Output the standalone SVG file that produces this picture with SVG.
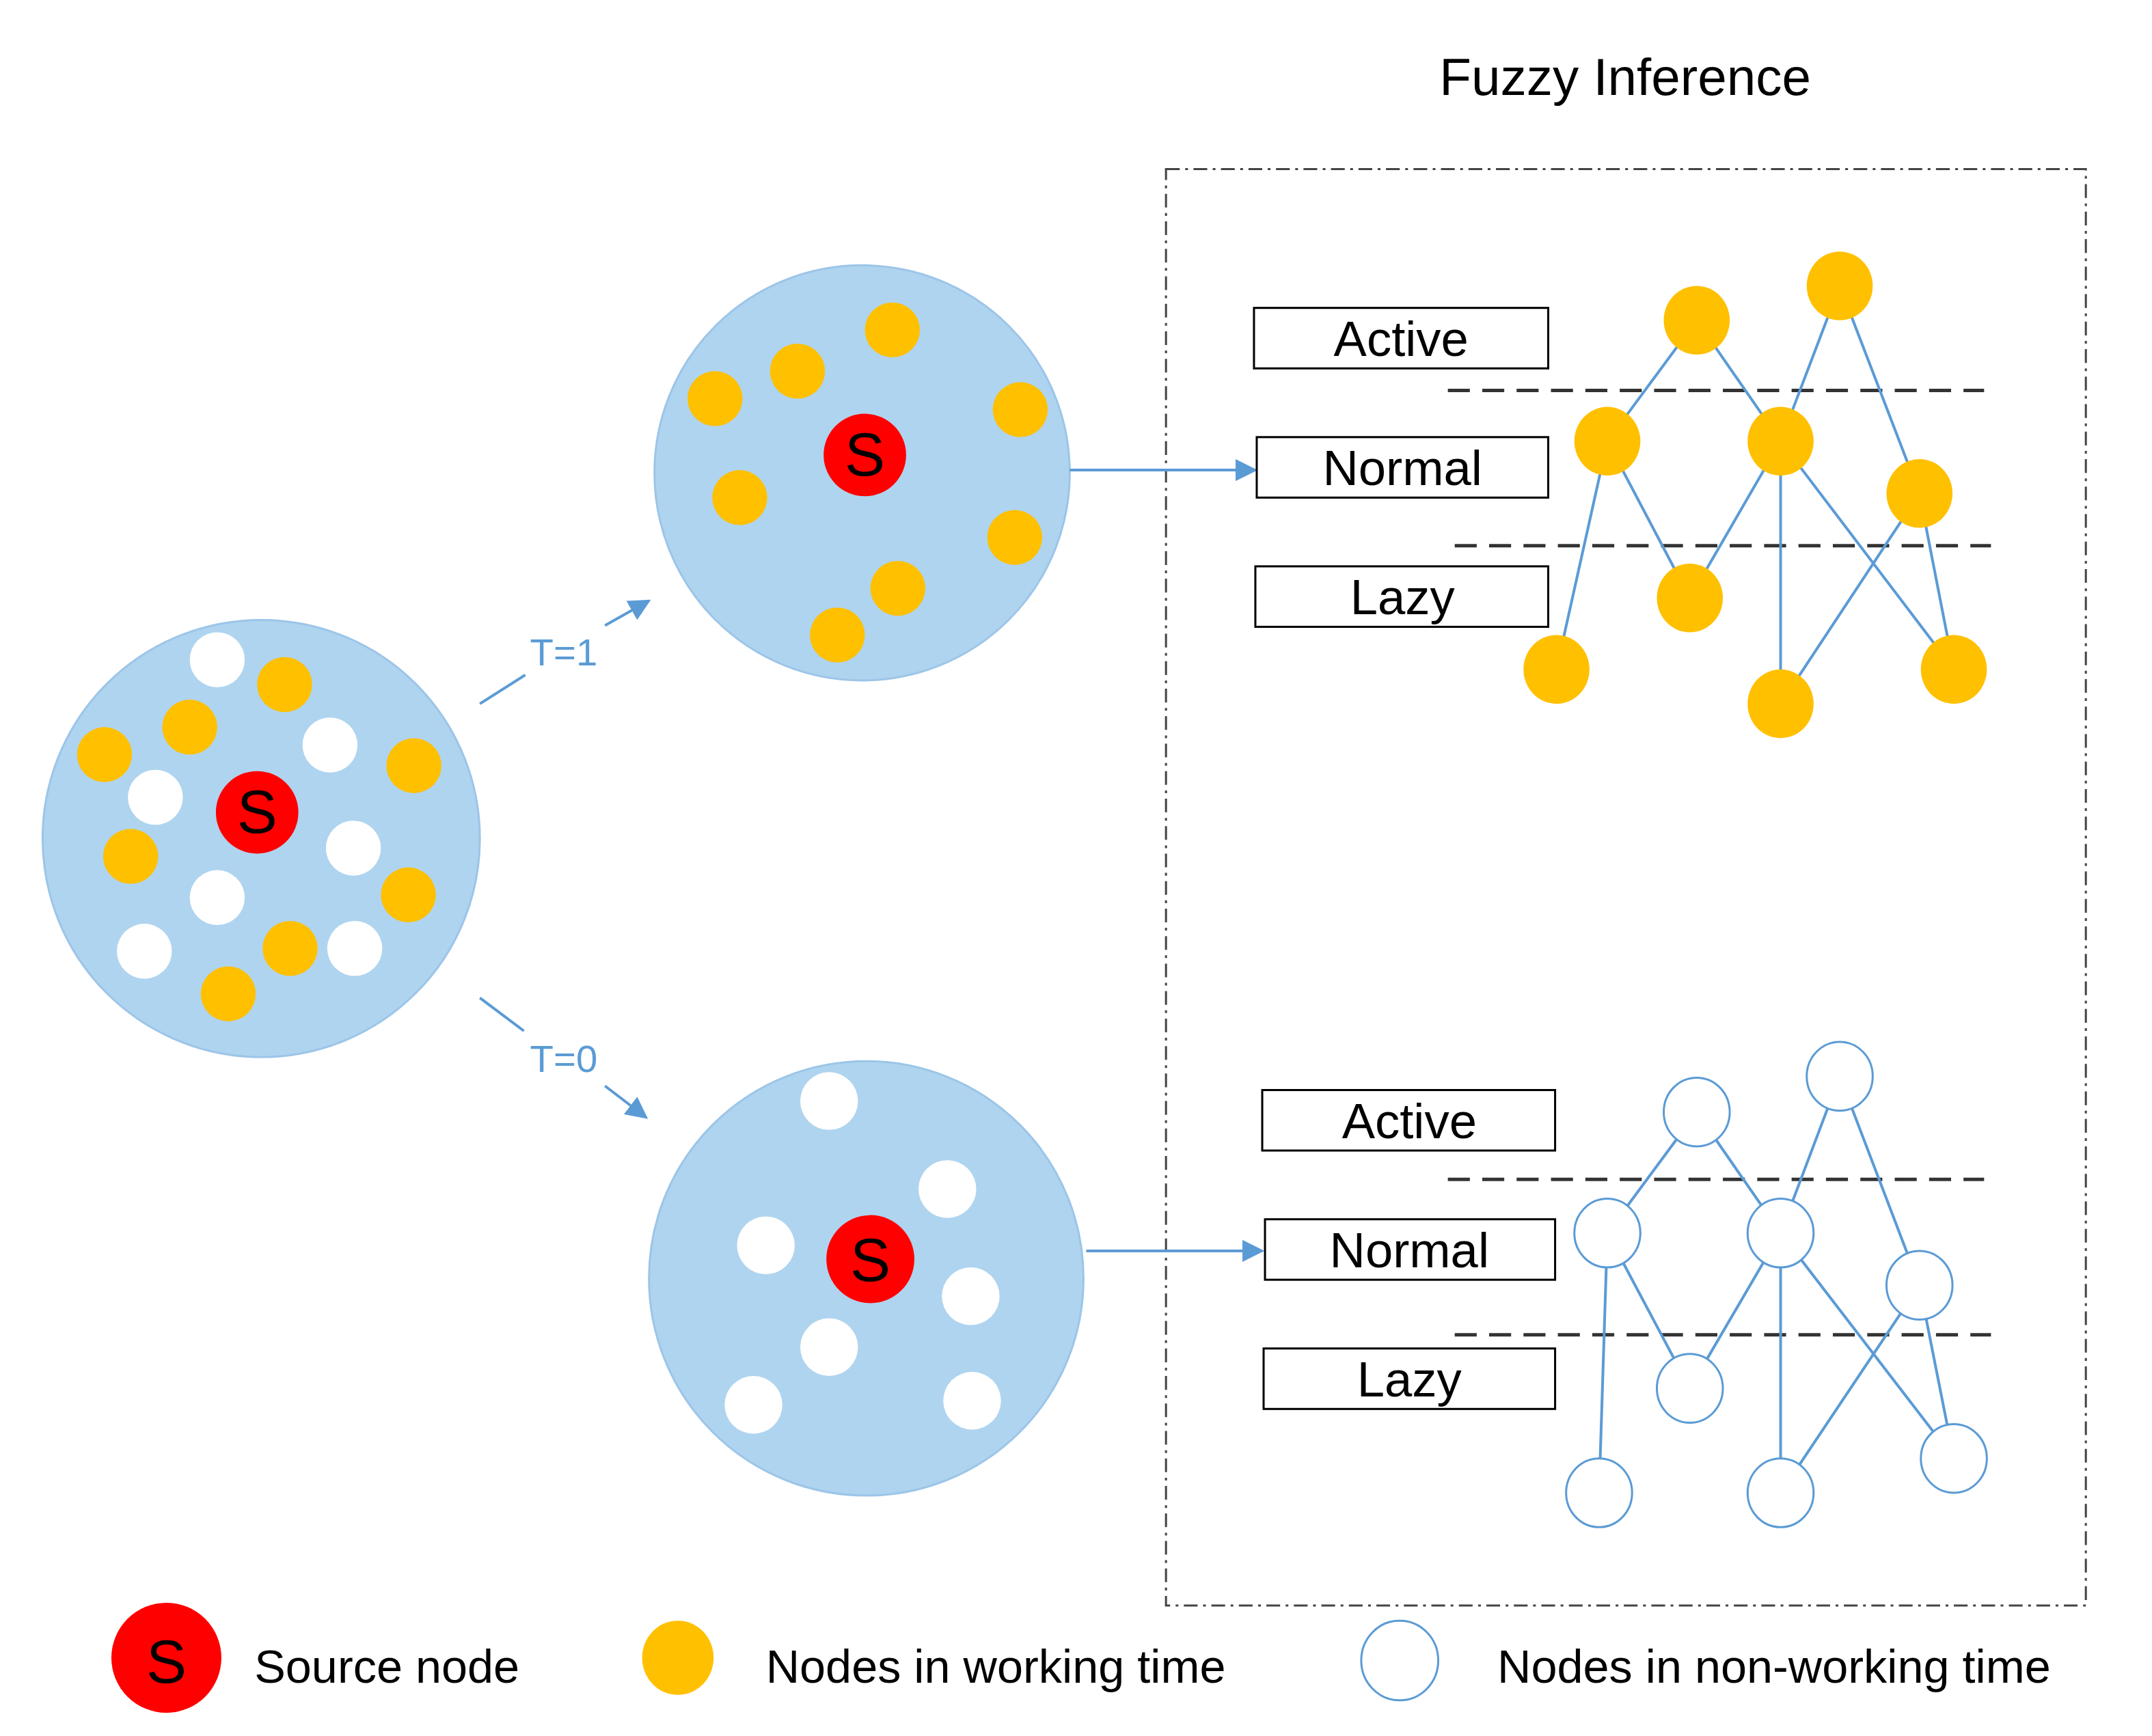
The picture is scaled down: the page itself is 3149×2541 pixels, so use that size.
<svg xmlns="http://www.w3.org/2000/svg" width="3149" height="2541" viewBox="0 0 3149 2541">
<style>
.big{fill:#AFD4EF;stroke:#9CC5E8;stroke-width:1.5}
.o{fill:#FFC000}
.w{fill:#FFFFFF}
.wn{fill:#FFFFFF;stroke:#5B9BD5;stroke-width:1.5}
.src{fill:#FF0000}
.st{font-family:"Liberation Sans",Arial,sans-serif;font-size:44px;fill:#000;text-anchor:middle}
.lbl{fill:#fff;stroke:#000;stroke-width:1.5}
.lt{font-family:"Liberation Sans",Arial,sans-serif;font-size:36px;fill:#000;text-anchor:middle}
.e{stroke:#5B9BD5;stroke-width:2;fill:none}
.d{stroke:#333;stroke-width:2.5;stroke-dasharray:16,9}
.t{font-family:"Liberation Sans",Arial,sans-serif;font-size:28px;fill:#5B9BD5;text-anchor:middle}
.leg{font-family:"Liberation Sans",Arial,sans-serif;font-size:34px;fill:#000}
</style>
<defs>
<marker id="ar" viewBox="0 0 10 10" refX="9" refY="5" markerWidth="8" markerHeight="8" orient="auto"><path d="M0,0L10,5L0,10z" fill="#5B9BD5"/></marker>
</defs>
<rect width="3149" height="2541" fill="#fff"/>
<g transform="scale(2.012)">
<text x="1182" y="69" font-family="Liberation Sans,Arial,sans-serif" font-size="38" text-anchor="middle">Fuzzy Inference</text>
<rect x="848" y="123" width="669" height="1045" fill="none" stroke="#444" stroke-width="1.5" stroke-dasharray="10,4,2,4"/>

<g id="left-cluster">
<circle class="big" cx="190" cy="610" r="159"/>
<circle class="w" cx="158" cy="480" r="20"/><circle class="w" cx="240" cy="542" r="20"/><circle class="w" cx="113" cy="580" r="20"/><circle class="w" cx="257" cy="617" r="20"/><circle class="w" cx="158" cy="653" r="20"/><circle class="w" cx="105" cy="692" r="20"/><circle class="w" cx="258" cy="690" r="20"/>
<circle class="o" cx="207" cy="498" r="20"/><circle class="o" cx="138" cy="529" r="20"/><circle class="o" cx="76" cy="549" r="20"/><circle class="o" cx="301" cy="557" r="20"/><circle class="o" cx="95" cy="623" r="20"/><circle class="o" cx="297" cy="651" r="20"/><circle class="o" cx="211" cy="690" r="20"/><circle class="o" cx="166" cy="723" r="20"/>
<circle class="src" cx="187" cy="591" r="30"/><text class="st" x="187" y="606">S</text>
</g>
<g id="top-cluster">
<circle class="big" cx="627" cy="344" r="151"/>
<circle class="o" cx="649" cy="240" r="20"/><circle class="o" cx="580" cy="270" r="20"/><circle class="o" cx="520" cy="290" r="20"/><circle class="o" cx="742" cy="298" r="20"/><circle class="o" cx="538" cy="362" r="20"/><circle class="o" cx="738" cy="391" r="20"/><circle class="o" cx="653" cy="428" r="20"/><circle class="o" cx="609" cy="462" r="20"/>
<circle class="src" cx="629" cy="331" r="30"/><text class="st" x="629" y="346">S</text>
</g>
<g id="bottom-cluster">
<circle class="big" cx="630" cy="930" r="158"/>
<circle class="w" cx="603" cy="801" r="21"/><circle class="w" cx="689" cy="865" r="21"/><circle class="w" cx="557" cy="906" r="21"/><circle class="w" cx="706" cy="943" r="21"/><circle class="w" cx="603" cy="980" r="21"/><circle class="w" cx="548" cy="1022" r="21"/><circle class="w" cx="707" cy="1019" r="21"/>
<circle class="src" cx="633" cy="916" r="32"/><text class="st" x="633" y="932">S</text>
</g>

<g id="connectors">
<path class="e" d="M349,512L382,491"/><path class="e" d="M440,455L472,437" marker-end="url(#ar)"/>
<text class="t" x="410" y="484">T=1</text>
<path class="e" d="M349,726L381,750"/><path class="e" d="M440,790L470,813" marker-end="url(#ar)"/>
<text class="t" x="410" y="780">T=0</text>
<path class="e" d="M778,342L913,342" marker-end="url(#ar)"/>
<path class="e" d="M790,910L918,910" marker-end="url(#ar)"/>
</g>

<g id="top-labels">
<rect class="lbl" x="912" y="224" width="214" height="44"/><text class="lt" x="1019" y="259">Active</text>
<rect class="lbl" x="914" y="318" width="212" height="44"/><text class="lt" x="1020" y="353">Normal</text>
<rect class="lbl" x="913" y="412" width="213" height="44"/><text class="lt" x="1020" y="447">Lazy</text>
<line class="d" x1="1053" y1="284" x2="1443" y2="284"/><line class="d" x1="1058" y1="397" x2="1448" y2="397"/>
</g>
<g id="top-graph">
<path class="e" d="M1234,233L1169,321M1234,233L1295,321M1338,208L1295,321M1338,208L1396,359M1169,321L1132,487M1169,321L1229,435M1295,321L1229,435M1295,321L1295,512M1295,321L1421,487M1396,359L1295,512M1396,359L1421,487"/>
<ellipse class="o" cx="1234" cy="233" rx="24" ry="25"/><ellipse class="o" cx="1338" cy="208" rx="24" ry="25"/>
<ellipse class="o" cx="1169" cy="321" rx="24" ry="25"/><ellipse class="o" cx="1295" cy="321" rx="24" ry="25"/><ellipse class="o" cx="1396" cy="359" rx="24" ry="25"/>
<ellipse class="o" cx="1229" cy="435" rx="24" ry="25"/><ellipse class="o" cx="1132" cy="487" rx="24" ry="25"/><ellipse class="o" cx="1295" cy="512" rx="24" ry="25"/><ellipse class="o" cx="1421" cy="487" rx="24" ry="25"/>
</g>

<g id="bottom-labels">
<rect class="lbl" x="918" y="793" width="213" height="44"/><text class="lt" x="1025" y="828">Active</text>
<rect class="lbl" x="920" y="887" width="211" height="44"/><text class="lt" x="1025" y="922">Normal</text>
<rect class="lbl" x="919" y="981" width="212" height="44"/><text class="lt" x="1025" y="1016">Lazy</text>
<line class="d" x1="1053" y1="858" x2="1443" y2="858"/><line class="d" x1="1058" y1="971" x2="1448" y2="971"/>
</g>
<g id="bottom-graph">
<path class="e" d="M1234,809L1169,897M1234,809L1295,897M1338,783L1295,897M1338,783L1396,935M1169,897L1163,1086M1169,897L1229,1010M1295,897L1229,1010M1295,897L1295,1086M1295,897L1421,1061M1396,935L1295,1086M1396,935L1421,1061"/>
<ellipse class="wn" cx="1234" cy="809" rx="24" ry="25"/><ellipse class="wn" cx="1338" cy="783" rx="24" ry="25"/>
<ellipse class="wn" cx="1169" cy="897" rx="24" ry="25"/><ellipse class="wn" cx="1295" cy="897" rx="24" ry="25"/><ellipse class="wn" cx="1396" cy="935" rx="24" ry="25"/>
<ellipse class="wn" cx="1229" cy="1010" rx="24" ry="25"/><ellipse class="wn" cx="1163" cy="1086" rx="24" ry="25"/><ellipse class="wn" cx="1295" cy="1086" rx="24" ry="25"/><ellipse class="wn" cx="1421" cy="1061" rx="24" ry="25"/>
</g>

<g id="legend">
<circle class="src" cx="121" cy="1206" r="40"/><text class="st" x="121" y="1224" font-size="48">S</text>
<text class="leg" x="185" y="1224">Source  node</text>
<ellipse class="o" cx="493" cy="1206" rx="26" ry="27"/>
<text class="leg" x="557" y="1224">Nodes in working time</text>
<ellipse class="wn" cx="1018" cy="1208" rx="28" ry="29"/>
<text class="leg" x="1089" y="1224">Nodes in non-working time</text>
</g>
</g>
</svg>
